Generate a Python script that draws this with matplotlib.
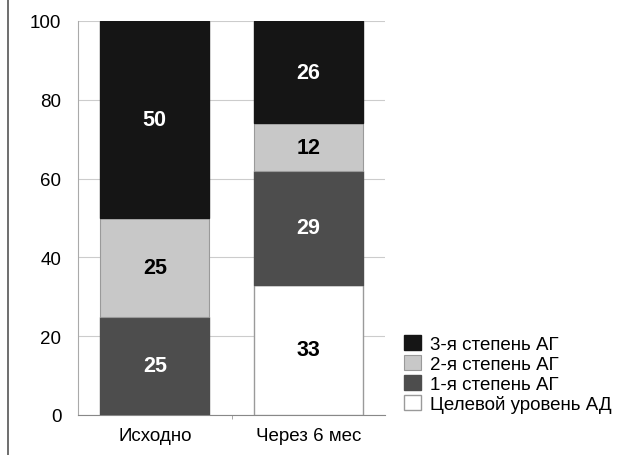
import numpy as np
import matplotlib.pyplot as plt
from matplotlib.lines import Line2D

plt.rcParams['font.family'] = ['Liberation Sans', 'DejaVu Sans']

categories = ["Исходно", "Через 6 мес"]
target = [0, 33]
grade1 = [25, 29]
grade2 = [25, 12]
grade3 = [50, 26]
yticks = [0, 20, 40, 60, 80, 100]

fig = plt.figure(figsize=(6.39, 4.56), dpi=100)
ax = fig.add_axes([78/639, 1-416/456, 307/639, 394/456])

x = np.arange(len(categories))
w = 0.71
ec = '#9a9a9a'
ax.bar(x, target, w, color='white', edgecolor=ec, linewidth=1, label='Целевой уровень АД', zorder=3)
b1 = np.array(target)
ax.bar(x, grade1, w, bottom=b1, color='#4d4d4d', edgecolor='#4d4d4d', label='1-я степень АГ', zorder=3)
b2 = b1 + np.array(grade1)
ax.bar(x, grade2, w, bottom=b2, color='#c8c8c8', edgecolor=ec, linewidth=0.8, label='2-я степень АГ', zorder=3)
b3 = b2 + np.array(grade2)
ax.bar(x, grade3, w, bottom=b3, color='#151515', edgecolor='#151515', label='3-я степень АГ', zorder=3)

# подписи значений
for vals, bottoms, col in [(target, np.zeros(2), 'black'), (grade1, b1, 'white'),
                           (grade2, b2, 'black'), (grade3, b3, 'white')]:
    for i, v in enumerate(vals):
        if v > 0:
            ax.text(x[i], bottoms[i] + v / 2, str(v), ha='center', va='center',
                    color=col, fontsize=15.5, fontweight='bold', zorder=4)

ax.set_xlim(-0.5, 1.5)
ax.set_ylim(0, 100)
ax.set_yticks(yticks)
ax.set_xticks(x)
ax.set_xticklabels(categories)
ax.set_xticks([0.5], minor=True)
ax.tick_params(axis='x', which='major', length=0, labelsize=13.5, pad=9)
ax.tick_params(axis='x', which='minor', length=3, color='#999999')
ax.tick_params(axis='y', length=0, labelsize=13.5, pad=12)
ax.yaxis.grid(True, color='#cccccc', linewidth=0.8, zorder=0)
for s in ['top', 'right']:
    ax.spines[s].set_visible(False)
ax.spines['left'].set_color('#aaaaaa')
ax.spines['bottom'].set_color('#888888')

h, l = ax.get_legend_handles_labels()
fig.legend(h[::-1], l[::-1], loc='upper left', bbox_to_anchor=(389/639, 1-321/456),
           frameon=False, fontsize=13.5, handlelength=0.9, handleheight=0.85,
           handletextpad=0.5, labelspacing=0.1, borderpad=0.3)

fig.add_artist(Line2D([8/639, 8/639], [0, 1], color='#555555', linewidth=1.2))

fig.savefig('out.png', dpi=100)
